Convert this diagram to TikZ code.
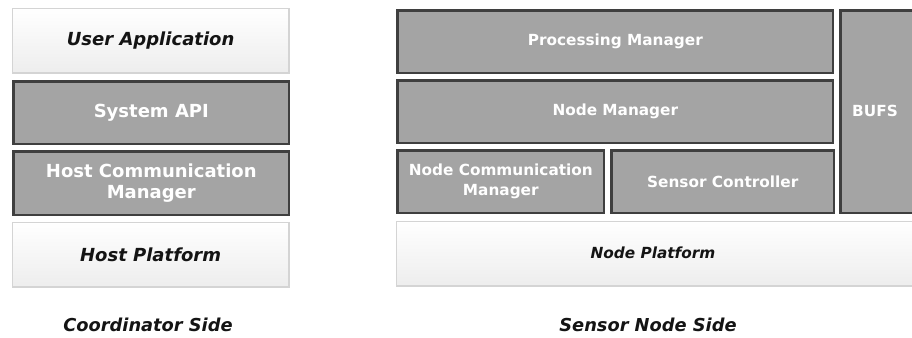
\documentclass[tikz,border=0pt]{standalone}
\usepackage{fontspec}
\setmainfont{DejaVu Sans}
\definecolor{boxfill}{HTML}{A4A4A4}
\definecolor{boxedge}{HTML}{3F3F3F}
\definecolor{lightedge}{HTML}{D4D4D4}
\definecolor{lightfill}{HTML}{EDEDED}
\begin{document}
\begin{tikzpicture}[x=1pt,y=-1pt,
  darkbox/.style={draw=boxedge, fill=boxfill, line width=2.6pt, inner sep=0pt,
    anchor=north west, text=white, align=center,
    font=\bfseries\fontsize{18}{21}\selectfont},
  lightbox/.style={draw=lightedge, top color=white, bottom color=lightfill,
    line width=1.2pt, inner sep=0pt, anchor=north west, align=center,
    text=black!92, font=\bfseries\itshape\fontsize{18}{21}\selectfont},
  small/.style={font=\bfseries\fontsize{15.3}{20}\selectfont},
  smallit/.style={font=\bfseries\itshape\fontsize{15.3}{20}\selectfont},
  caption/.style={inner sep=0pt, text=black!92,
    font=\bfseries\itshape\fontsize{17.8}{21}\selectfont},
  boxlabel/.style={inner sep=0pt, align=center}]
\clip (0,0) rectangle (912,337);
\fill[white] (0,0) rectangle (912,337);

% coordinator side stack
\node[lightbox, minimum width=276.8pt, minimum height=64.8pt] (ua) at (11.6,7.6) {User Application};
\node[darkbox, minimum width=275.4pt, minimum height=62.4pt] (api) at (12.3,80.3) {System API};
\node[darkbox, minimum width=275.4pt, minimum height=63.4pt] (hcm) at (12.3,150.3) {Host Communication\\Manager};
\node[lightbox, minimum width=276.8pt, minimum height=64.8pt] (hp) at (11.6,221.6) {Host Platform};
\node[caption] (coord) at (148,325) {Coordinator Side};

% sensor node side stack
\node[darkbox, small, minimum width=435.4pt, minimum height=62.4pt] (pm) at (396.3,9.3) {Processing Manager};
\node[darkbox, small, minimum width=435.4pt, minimum height=62.4pt] (nm) at (396.3,79.3) {Node Manager};
\node[darkbox, small, minimum width=206.4pt, minimum height=62.4pt] (ncm) at (396.3,149.3) {Node Communication\\Manager};
\node[darkbox, small, minimum width=222.4pt, minimum height=62.4pt] (sc) at (610.3,149.3) {Sensor Controller};
\node[darkbox, minimum width=100pt, minimum height=202.4pt] (bufs) at (839.3,9.3) {};
\node[boxlabel, small, text=white] (bufstxt) at (875,111) {BUFS};
\node[lightbox, minimum width=540pt, minimum height=64.8pt] (np) at (395.6,220.6) {};
\node[boxlabel, smallit, text=black!92] (nptxt) at (653,253) {Node Platform};
\node[caption] (sensor) at (648,325) {Sensor Node Side};
\end{tikzpicture}
\end{document}
